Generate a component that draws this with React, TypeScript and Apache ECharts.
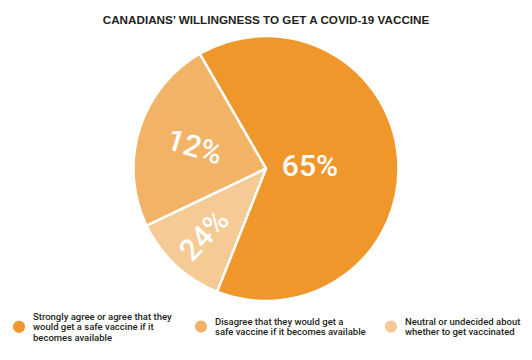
import React, { useEffect, useRef } from "react";
import * as echarts from "echarts";

const titleText = "CANADIANS\u2019 WILLINGNESS TO GET A COVID-19 VACCINE";

const categories = [
  "Strongly agree or agree that they would get a safe vaccine if it becomes available",
  "Disagree that they would get a safe vaccine if it becomes available",
  "Neutral or undecided about whether to get vaccinated",
];
const legendText = [
  "Strongly agree or agree that they\nwould get a safe vaccine if it\nbecomes available",
  "Disagree that they would get a\nsafe vaccine if it becomes available",
  "Neutral or undecided about\nwhether to get vaccinated",
];
// percentage printed on each category's slice
const printedPercent = [65, 12, 24];
// share of the circle each category's slice covers in the picture
const drawnShare = [65, 24, 12];
// clockwise order of slices starting at the top-left edge
const sliceOrder = [0, 2, 1];

const colors = ["#EF972B", "#F2B367", "#F6CA95"];
// distance of each category's label from the centre, as a share of the radius
const labelRadiusFactor = [0.31, 0.54, 0.665];

const CX = 266;
const CY = 168.5;
const R = 132.5;
const START = 120;
const LABEL_FONT = "Roboto, Liberation Sans, Arial, sans-serif";

export default function App() {
  const ref = useRef<HTMLDivElement>(null);
  useEffect(() => {
    if (!ref.current) return;
    const chart = echarts.init(ref.current, undefined, { renderer: "svg" });
    const baseData = sliceOrder.map((ci) => ({
      name: categories[ci],
      value: drawnShare[ci],
      itemStyle: { color: colors[ci] },
    }));
    const legendLefts = [11, 193, 383];
    const legendTops = [311, 316, 316];

    const labelSeries = sliceOrder.map((ci, si) => ({
      type: "pie",
      center: [CX, CY],
      radius: 2 * R * labelRadiusFactor[ci],
      startAngle: START,
      clockwise: true,
      silent: true,
      z: 5,
      itemStyle: { color: "transparent", borderWidth: 0 },
      labelLine: { show: false },
      data: sliceOrder.map((cj, sj) => ({
        name: categories[cj] + " label",
        value: drawnShare[cj],
        label: {
          show: sj === si,
          position: "inside",
          formatter: printedPercent[cj] + "%",
          rotate: cj === 0 ? 0 : "radial",
          color: "#ffffff",
          fontSize: 30,
          fontWeight: 500,
          fontFamily: LABEL_FONT,
          padding: cj === 0 ? [16, 0, 0, 0] : [4, 0, 0, 0],
        },
      })),
    }));

    const option: any = {
      animation: false,
      title: {
        text: titleText,
        left: "center",
        top: 13,
        padding: 0,
        textStyle: {
          fontFamily: "Liberation Sans, Arial, sans-serif",
          fontSize: 11.7,
          fontWeight: "bold",
          color: "#231F20",
        },
      },
      legend: categories.map((c, i) => ({
        data: [c],
        left: legendLefts[i],
        top: legendTops[i],
        padding: 0,
        icon: "circle",
        itemWidth: 14,
        itemHeight: 14,
        selectedMode: false,
        formatter: () => legendText[i],
        textStyle: {
          fontFamily: "Roboto, Liberation Sans, Arial, sans-serif",
          fontWeight: 500,
          fontSize: 9.5,
          lineHeight: 10.5,
          color: "#231F20",
          padding: [0, 0, 0, 2],
        },
      })),
      series: [
        {
          type: "pie",
          center: [CX, CY],
          radius: R,
          startAngle: START,
          clockwise: true,
          silent: true,
          itemStyle: { borderColor: "#ffffff", borderWidth: 2.5 },
          label: { show: false },
          labelLine: { show: false },
          data: baseData,
        },
        ...labelSeries,
      ],
    };
    chart.setOption(option);
    return () => chart.dispose();
  }, []);
  return (
    <div
      ref={ref}
      style={{ position: "fixed", left: 0, top: 0, width: 532, height: 360, background: "#fff" }}
    />
  );
}
